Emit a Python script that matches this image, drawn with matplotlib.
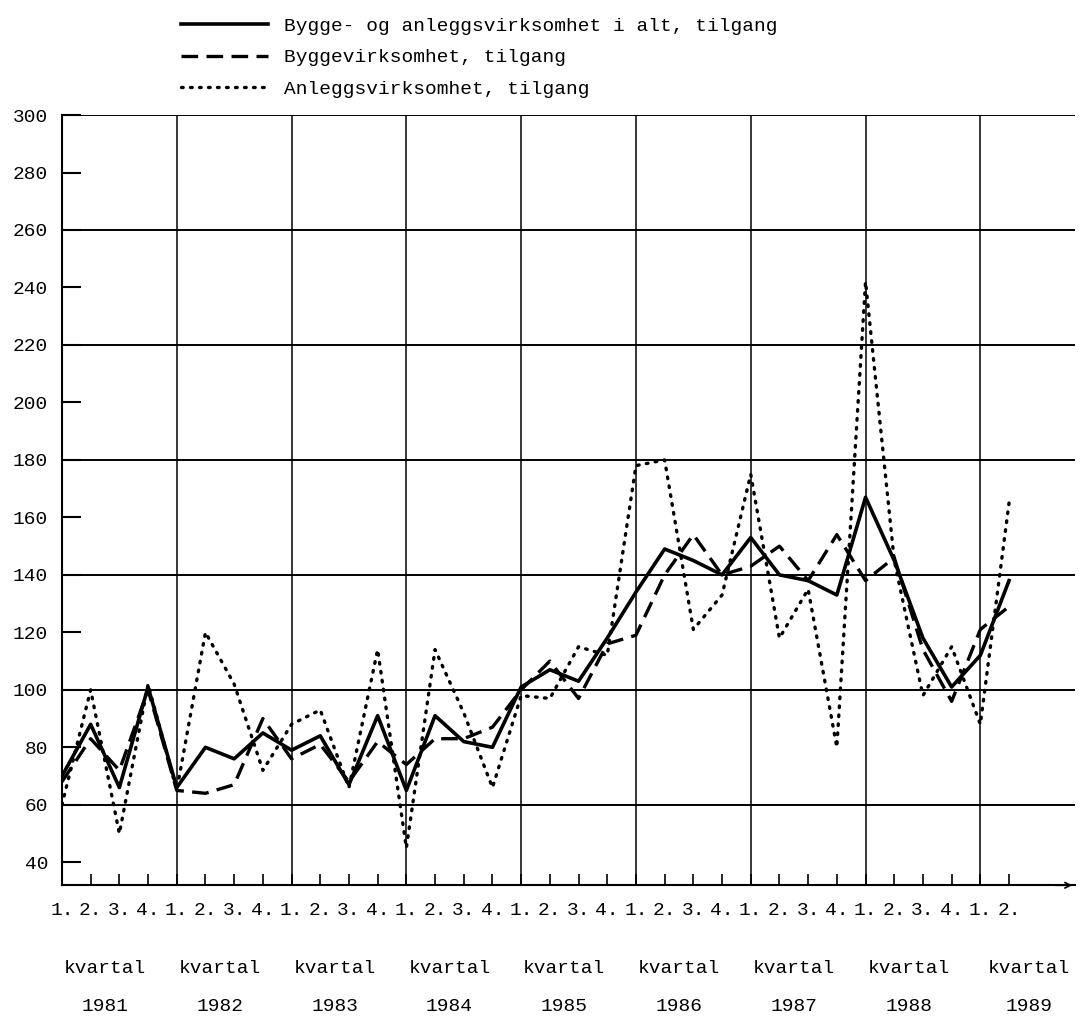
import matplotlib
matplotlib.use('agg')
import matplotlib.pyplot as plt
import numpy as np

years = [1981, 1982, 1983, 1984, 1985, 1986, 1987, 1988, 1989]
quarters = ["1.", "2.", "3.", "4."]

total = [70, 88, 66, 101, 66, 80, 76, 85, 79, 84, 67, 91, 65, 91, 82, 80,
         101, 107, 103, 118, 134, 149, 145, 140, 153, 140, 138, 133,
         167, 145, 118, 101, 112, 138]
bygg = [68, 83, 72, 100, 65, 64, 67, 90, 76, 81, 68, 82, 74, 83, 83, 87,
        100, 110, 97, 116, 119, 140, 154, 140, 143, 150, 138, 154,
        138, 146, 114, 96, 121, 129]
anlegg = [60, 100, 50, 102, 65, 120, 102, 72, 88, 93, 66, 114, 45, 114, 92, 66,
          98, 97, 115, 112, 178, 180, 121, 133, 175, 118, 135, 80,
          242, 145, 98, 115, 88, 165]

plt.rcParams['font.family'] = ['Liberation Mono', 'DejaVu Sans Mono']
fig = plt.figure(figsize=(10.87, 10.27), dpi=100)
ax = fig.add_axes([0.057, 0.138, 0.932, 0.750])

x = np.arange(len(total))
ax.plot(x, total, color='black', lw=2.6, label="Bygge- og anleggsvirksomhet i alt, tilgang")
ax.plot(x, bygg, color='black', lw=2.4, ls=(0, (5, 2.5)), label="Byggevirksomhet, tilgang")
ax.plot(x, anlegg, color='black', lw=2.4, ls=(0, (0.5, 2.2)), dash_capstyle='round',
        label="Anleggsvirksomhet, tilgang")

ax.set_xlim(0, 35.3)
ax.set_ylim(32, 300)
for v in range(60, 301, 40):
    ax.axhline(v, color='black', lw=1.4, zorder=0)
for i in range(4, 33, 4):
    ax.axvline(i, color='black', lw=1.1, zorder=0)

ax.set_yticks(range(40, 301, 20))
ax.set_yticklabels([str(v) for v in range(40, 301, 20)], fontsize=14)
ax.tick_params(axis='y', length=14, width=1.5, direction='in', pad=10)
ax.set_xticks(x)
ax.set_xticklabels([quarters[i % 4] for i in x], fontsize=14)
ax.tick_params(axis='x', length=8, width=1.2, direction='in', pad=12)

for s in ['top', 'right']:
    ax.spines[s].set_visible(False)
ax.spines['left'].set_linewidth(1.5)
ax.spines['bottom'].set_linewidth(1.5)
ax.annotate('', xy=(35.3, 32), xytext=(34.5, 32),
            arrowprops=dict(arrowstyle='->', color='black', lw=1.2), annotation_clip=False)

for k, yr in enumerate(years):
    xc = 4 * k + (1.7 if yr == 1989 else 1.5)
    ax.text(xc, -0.108, "kvartal", transform=ax.get_xaxis_transform(),
            ha='center', va='center', fontsize=14)
    ax.text(xc, -0.158, str(yr), transform=ax.get_xaxis_transform(),
            ha='center', va='center', fontsize=14)

fig.legend(loc='upper left', bbox_to_anchor=(0.15, 1.0), frameon=False,
           fontsize=14, handlelength=4.5, labelspacing=0.7)

fig.savefig("out.png", dpi=100)
